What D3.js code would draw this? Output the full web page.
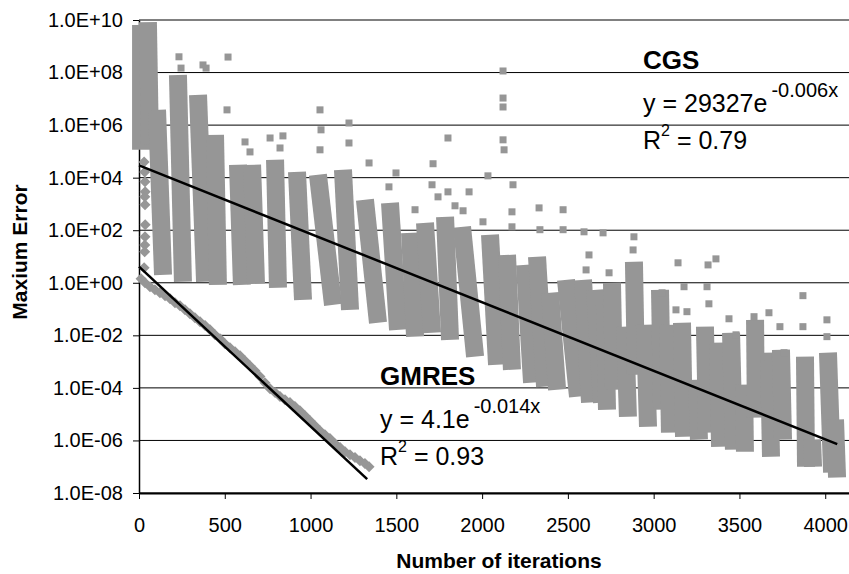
<!DOCTYPE html>
<html>
<head>
<meta charset="utf-8">
<script src="https://cdn.jsdelivr.net/npm/d3@7"></script>
<style>
  body { margin: 0; background: #fff; }
  text { font-family: Arial, "Liberation Sans", sans-serif; }
</style>
</head>
<body>
<svg id="chart" width="849" height="574"></svg>
<script>
// axis ticks
const xTicks = [0, 500, 1000, 1500, 2000, 2500, 3000, 3500, 4000];
const yTicks = [10, 8, 6, 4, 2, 0, -2, -4, -6, -8]; // log10 of max error

// CGS: each streak of points read as [iter at top, log10 err top, iter at bottom, log10 err bottom]
const cgsColumns = [
  [12, 9.81, 12, 5.06], [52, 9.92, 64, 5.25], [105, 6.58, 140, 0.30],
  [227, 7.91, 256, 0.04], [344, 7.15, 385, 0.04], [443, 5.63, 460, -0.08],
  [577, 4.49, 600, -0.08], [659, 4.49, 682, -0.04], [793, 4.68, 810, -0.19],
  [921, 4.22, 956, -0.65], [1043, 4.11, 1131, -0.84], [1189, 4.30, 1230, -1.03],
  [1317, 3.16, 1393, -1.52], [1463, 3.04, 1510, -1.79], [1580, 1.90, 1609, -2.05],
  [1667, 2.28, 1708, -1.90], [1784, 2.51, 1813, -2.17], [1883, 2.13, 1959, -2.81],
  [2046, 1.83, 2087, -3.12], [2145, 1.06, 2174, -3.31], [2250, 0.68, 2291, -3.80],
  [2320, 0.99, 2367, -3.95], [2396, -0.38, 2437, -4.07], [2489, 0.11, 2559, -4.33],
  [2588, 0.11, 2629, -4.56], [2658, -0.27, 2699, -4.56], [2716, -0.84, 2728, -4.83],
  [2757, 0.00, 2769, -4.07], [2833, -1.67, 2850, -5.10], [2885, 0.80, 2897, -3.50],
  [2949, -1.60, 2967, -5.48], [3037, -0.27, 3049, -4.83], [3084, -1.60, 3095, -5.70],
  [3165, -1.52, 3177, -5.86], [3253, -3.69, 3264, -5.97], [3299, -1.67, 3311, -5.70],
  [3375, -2.28, 3387, -6.24], [3451, -1.90, 3468, -6.35], [3527, -3.88, 3532, -6.43],
  [3591, -1.41, 3596, -5.13], [3672, -2.66, 3684, -6.62], [3742, -2.55, 3754, -5.97],
  [3882, -2.81, 3888, -7.00], [3923, -5.97, 3929, -7.00], [4016, -2.66, 4040, -7.22],
  [4057, -5.21, 4069, -7.41]
];

// CGS: isolated points [iter, log10 err]
const cgsPoints = [
  [233, 8.60], [245, 8.17], [373, 8.29], [391, 8.17], [519, 8.59], [513, 6.58],
  [618, 5.36], [647, 4.98], [764, 5.51], [839, 5.59], [822, 5.13], [1055, 6.58],
  [1061, 5.82], [1055, 5.06], [1224, 6.08], [1224, 5.32], [1341, 4.56], [1457, 3.65],
  [1498, 4.18], [1609, 2.78], [1714, 4.53], [1708, 3.73], [1801, 5.51], [1743, 3.27],
  [1801, 3.46], [1842, 2.93], [1924, 3.46], [1889, 2.74], [2034, 4.07], [2180, 3.73],
  [2005, 2.32], [2174, 2.70], [2332, 2.85], [2472, 2.78], [2594, 1.94], [2705, 1.90],
  [2885, 1.75], [2880, 1.25], [2623, 1.06], [2606, 0.49], [2740, 0.38], [2337, 2.02],
  [2472, 2.02], [2174, 2.13], [3049, -0.38], [3130, -1.03], [3177, -0.15], [3142, 0.76],
  [3194, -1.10], [3317, 0.68], [3363, 0.91], [3311, -0.15], [3322, -0.80], [3439, -1.37],
  [3480, -1.98], [3585, -1.29], [3672, -1.14], [3667, -2.81], [3736, -1.67], [3760, -2.66],
  [3870, -1.67], [3870, -0.49], [4010, -1.41], [4010, -2.05],
  [2122, 8.06], [2122, 7.03], [2122, 6.69], [2122, 5.44], [2128, 5.06]
];

// GMRES points [iter, log10 err]
const gmresPoints = [
  [30, 4.60], [33, 4.22], [35, 3.84], [36, 3.46], [34, 3.27], [35, 2.97], [36, 2.21],
  [35, 1.75], [34, 1.44], [33, 1.18], [30, 0.57],
  [12, 0.15], [35, 0.00], [64, -0.15], [93, -0.27], [122, -0.38], [152, -0.49],
  [181, -0.61], [210, -0.76], [239, -0.87], [268, -1.03], [297, -1.18], [326, -1.33],
  [356, -1.48], [385, -1.63], [414, -1.79], [443, -1.98], [472, -2.13], [501, -2.32],
  [530, -2.47], [560, -2.62], [589, -2.78], [618, -2.97], [647, -3.16], [676, -3.35],
  [705, -3.57], [734, -3.80], [764, -4.03], [793, -4.18], [822, -4.33], [851, -4.45],
  [880, -4.56], [909, -4.71], [938, -4.87], [968, -5.06], [997, -5.25], [1026, -5.44],
  [1055, -5.63], [1084, -5.78], [1113, -5.93], [1142, -6.12], [1172, -6.27], [1201, -6.43],
  [1230, -6.54], [1259, -6.65], [1288, -6.77], [1317, -6.88], [1341, -7.00]
];

// exponential trend lines y = a * e^(b x), shown over the data range
const cgsFit = { a: 29327, b: -0.006, from: 0, to: 4070 };
const gmresFit = { a: 4.1, b: -0.014, from: 0, to: 1330 };

const svg = d3.select("#chart");
const grey = "#969696";

const x = d3.scaleLinear().domain([0, 4500]).range([139, 911]);
const y = d3.scaleLinear().domain([-8, 10]).range([493, 20]);

// gridlines
svg.append("g").selectAll("line")
  .data(yTicks)
  .join("line")
    .attr("x1", 139).attr("x2", 849)
    .attr("y1", d => y(d)).attr("y2", d => y(d))
    .attr("stroke", d => d == 10 ? "#808080" : "#000")
    .attr("stroke-width", d => d == 10 ? 2 : 1);

const expFormat = d => "1.0E" + (d < 0 ? "-" : "+") + String(Math.abs(d)).padStart(2, "0");

// y axis
const yAxis = svg.append("g")
  .attr("transform", "translate(139,0)")
  .call(d3.axisLeft(y).tickValues(yTicks).tickSize(6).tickSizeOuter(0).tickPadding(10).tickFormat(expFormat));
yAxis.selectAll("text").attr("font-size", 20).attr("fill", "#000").style("font-family", "Arial, 'Liberation Sans', sans-serif");
yAxis.select(".domain").attr("stroke", "#000").attr("stroke-width", 1.5);

// x axis (the line runs on past the last tick to the picture's edge)
const xAxis = svg.append("g")
  .attr("transform", "translate(0,493)")
  .call(d3.axisBottom(x).tickValues(xTicks).tickSize(6).tickSizeOuter(0).tickPadding(19).tickFormat(d3.format("d")));
xAxis.selectAll("text").attr("font-size", 20).attr("fill", "#000").style("font-family", "Arial, 'Liberation Sans', sans-serif");
xAxis.select(".domain").attr("stroke", "#000").attr("stroke-width", 2);

// CGS streaks
svg.append("g").selectAll("line")
  .data(cgsColumns)
  .join("line")
    .attr("x1", d => x(d[0])).attr("y1", d => y(d[1]))
    .attr("x2", d => x(d[2])).attr("y2", d => y(d[3]))
    .attr("stroke", grey)
    .attr("stroke-width", 18);

// CGS isolated squares
svg.append("g").selectAll("rect")
  .data(cgsPoints)
  .join("rect")
    .attr("x", d => x(d[0]) - 3.5).attr("y", d => y(d[1]) - 3.5)
    .attr("width", 7).attr("height", 7)
    .attr("fill", grey);

// GMRES diamonds
svg.append("g").selectAll("path")
  .data(gmresPoints)
  .join("path")
    .attr("transform", d => `translate(${x(d[0])},${y(d[1])})`)
    .attr("d", "M0,-5.5L5.5,0L0,5.5L-5.5,0Z")
    .attr("fill", grey);

// trend lines
const fitLine = f => [f.from, f.to].map(t => [x(t), y(Math.log10(f.a) + f.b * t / Math.LN10)]);
svg.append("g").selectAll("path")
  .data([cgsFit, gmresFit])
  .join("path")
    .attr("d", f => d3.line()(fitLine(f)))
    .attr("stroke", "#000")
    .attr("stroke-width", 2.5)
    .attr("fill", "none");

// annotations
function fitLabel(name, lx, ly, coef, expo, r2) {
  const g = svg.append("g");
  g.append("text").attr("x", lx).attr("y", ly)
    .attr("font-size", 26).attr("font-weight", "bold").text(name);
  const eq = g.append("text").attr("x", lx).attr("y", ly + 43).attr("font-size", 25);
  eq.append("tspan").text("y = " + coef + "e");
  eq.append("tspan").attr("dy", -15).attr("dx", 4).attr("font-size", 20).text(expo);
  const r = g.append("text").attr("x", lx).attr("y", ly + 80).attr("font-size", 25);
  r.append("tspan").text("R");
  r.append("tspan").attr("dy", -13).attr("font-size", 16).text("2");
  r.append("tspan").attr("dy", 13).text(" = " + r2);
}
fitLabel("CGS", 643, 69, "29327", "-0.006x", "0.79");
fitLabel("GMRES", 380, 385, "4.1", "-0.014x", "0.93");

// axis titles
svg.append("text")
  .attr("x", 499).attr("y", 568)
  .attr("text-anchor", "middle")
  .attr("font-size", 21).attr("font-weight", "bold")
  .text("Number of iterations");

svg.append("text")
  .attr("transform", "translate(27,252) rotate(-90)")
  .attr("text-anchor", "middle")
  .attr("font-size", 21).attr("font-weight", "bold")
  .text("Maxium Error");
</script>
</body>
</html>
